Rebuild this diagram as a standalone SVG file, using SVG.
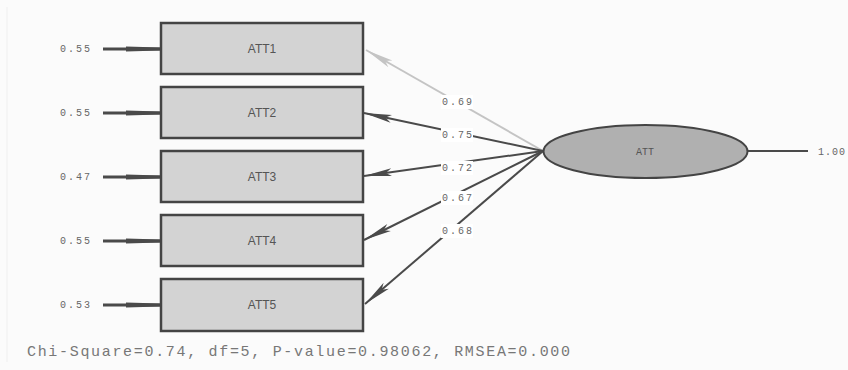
<svg xmlns="http://www.w3.org/2000/svg" width="848" height="370" viewBox="0 0 848 370">
<defs>
<marker id="ah" viewBox="0 0 28 10" refX="28" refY="5" markerWidth="28" markerHeight="10" markerUnits="userSpaceOnUse" orient="auto">
<path d="M0,1 L28,5 L0,9 L6,5 Z" fill="#4a4a4a"/>
</marker>
<marker id="ahl" viewBox="0 0 28 10" refX="28" refY="5" markerWidth="28" markerHeight="10" markerUnits="userSpaceOnUse" orient="auto">
<path d="M0,1 L28,5 L0,9 L6,5 Z" fill="#c4c4c4"/>
</marker>
<marker id="ahe" viewBox="0 0 34 7" refX="34" refY="3.5" markerWidth="34" markerHeight="7" markerUnits="userSpaceOnUse" orient="auto">
<path d="M0,1 L34,2 L34,5 L0,6 Z" fill="#4a4a4a"/>
</marker>
</defs>
<style>
.box{fill:#d3d3d3;stroke:#444;stroke-width:2.5}
.lbl{font-family:"Liberation Sans",Arial,sans-serif;font-size:12px;fill:#555;text-anchor:middle;dominant-baseline:central}
.num{font-family:"Liberation Mono","Courier New",monospace;font-size:10px;fill:#666;dominant-baseline:central}
.err{stroke:#4a4a4a;stroke-width:3;marker-end:url(#ahe)}
.load{stroke:#4a4a4a;stroke-width:2;fill:none;marker-end:url(#ah)}
.loadl{stroke:#c4c4c4;stroke-width:2;fill:none;marker-end:url(#ahl)}
.bg{fill:#ffffff}
</style>
<rect x="0" y="0" width="848" height="370" fill="#fbfbfb"/>
<line x1="7" y1="7" x2="7" y2="362" stroke="#efefef" stroke-width="1"/>
<g id="connectors">
<line class="err" x1="103" y1="49" x2="160" y2="49"/>
<line class="err" x1="103" y1="113" x2="160" y2="113"/>
<line class="err" x1="103" y1="177" x2="160" y2="177"/>
<line class="err" x1="103" y1="241" x2="160" y2="241"/>
<line class="err" x1="103" y1="305" x2="160" y2="305"/>
<line class="loadl" x1="543" y1="151" x2="366" y2="50"/>
<line class="load" x1="543" y1="151" x2="364" y2="113"/>
<line class="load" x1="543" y1="151" x2="364" y2="176"/>
<line class="load" x1="543" y1="151" x2="364" y2="240"/>
<line class="load" x1="543" y1="151" x2="365" y2="304"/>
<line x1="748" y1="151" x2="808" y2="151" stroke="#4a4a4a" stroke-width="2"/>
<rect class="bg" x="441" y="95" width="32" height="14"/>
<rect class="bg" x="441" y="128" width="32" height="14"/>
<rect class="bg" x="441" y="161" width="32" height="14"/>
<rect class="bg" x="441" y="191" width="32" height="14"/>
<rect class="bg" x="441" y="224" width="32" height="14"/>
<text class="num" x="442" y="102" textLength="30">0.69</text>
<text class="num" x="442" y="135" textLength="30">0.75</text>
<text class="num" x="442" y="168" textLength="30">0.72</text>
<text class="num" x="442" y="198" textLength="30">0.67</text>
<text class="num" x="442" y="231" textLength="30">0.68</text>
<text class="num" x="60" y="49" textLength="30">0.55</text>
<text class="num" x="60" y="113" textLength="30">0.55</text>
<text class="num" x="60" y="177" textLength="30">0.47</text>
<text class="num" x="60" y="241" textLength="30">0.55</text>
<text class="num" x="60" y="305" textLength="30">0.53</text>
<text class="num" x="818" y="152" textLength="27">1.00</text>
</g>
<g id="ATT1"><rect class="box" x="161" y="23" width="202" height="51"/><text class="lbl" x="262" y="49">ATT1</text></g>
<g id="ATT2"><rect class="box" x="161" y="87" width="202" height="51"/><text class="lbl" x="262" y="113">ATT2</text></g>
<g id="ATT3"><rect class="box" x="161" y="151" width="202" height="51"/><text class="lbl" x="262" y="177">ATT3</text></g>
<g id="ATT4"><rect class="box" x="161" y="215" width="202" height="51"/><text class="lbl" x="262" y="241">ATT4</text></g>
<g id="ATT5"><rect class="box" x="161" y="279" width="202" height="52"/><text class="lbl" x="262" y="305">ATT5</text></g>
<g id="ATT"><ellipse cx="645.5" cy="151.5" rx="102" ry="26.5" fill="#b0b0b0" stroke="#444" stroke-width="2"/><text class="lbl" x="645" y="152" style="font-family:'Liberation Mono',monospace;font-size:10px">ATT</text></g>
<text x="27" y="356" style="font-family:'Liberation Mono','Courier New',monospace;font-size:15px;fill:#777" textLength="543">Chi-Square=0.74, df=5, P-value=0.98062, RMSEA=0.000</text>
</svg>
